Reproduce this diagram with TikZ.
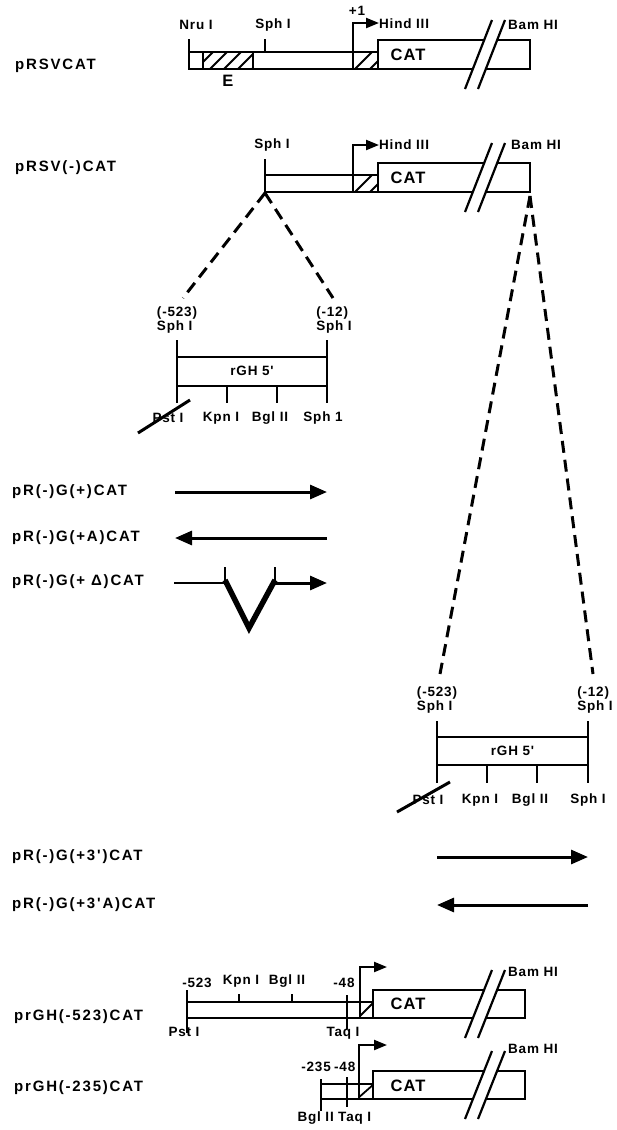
\documentclass[tikz,border=0pt]{standalone}
\usepackage{fontspec}
\setmainfont{Liberation Sans}
\newfontfamily\smf[LetterSpace=6]{Liberation Sans}
\newfontfamily\bgf[LetterSpace=12]{Liberation Sans}
\usetikzlibrary{arrows.meta,calc}
\tikzset{
 lbl/.style={font=\smf\bfseries\fontsize{13.5}{12}\selectfont, inner sep=0pt},
 cname/.style={font=\bgf\bfseries\fontsize{15}{14}\selectfont, inner sep=0pt, anchor=west},
 cat/.style={font=\smf\bfseries\fontsize{16.5}{16}\selectfont, inner sep=0pt},
 ln/.style={line width=2.2pt},
 hl/.style={line width=1.8pt},
 dsh/.style={line width=3pt, dash pattern=on 12pt off 7pt},
 arr/.style={line width=3pt, -{Triangle[length=17pt,width=14pt]}},
 prom/.style={line width=2.2pt, -{Triangle[length=13pt,width=10pt]}},
 strike/.style={line width=3pt},
 vee/.style={line width=5.5pt, line join=miter},
}
\newcommand\brkmark[2]{%
 \begin{scope}
 \clip (465,#2+20) -- (492,#1-20) -- (505,#1-20) -- (478,#2+20) -- cycle;
 \fill[white] (450,#1-3) rectangle (520,#2+3);
 \end{scope}
 \draw[ln] (465,#2+20) -- (492,#1-20);
 \draw[ln] (478,#2+20) -- (505,#1-20);}
\begin{document}
\begin{tikzpicture}[x=1pt,y=-1pt]
\useasboundingbox (0,0) rectangle (617,1130);
% ---------- pRSVCAT ----------
\node[cname] (n1) at (15,66) {pRSVCAT};
\begin{scope}
\clip (203,52) rectangle (253,69);
\foreach \x in {196,210,224,238,252} \draw[hl] (\x,69) -- (\x+17,52);
\end{scope}
\begin{scope}
\clip (353,52) rectangle (378,69);
\foreach \x in {355,370} \draw[hl] (\x,69) -- (\x+17,52);
\end{scope}
\draw[ln] (189,39) -- (189,69) -- (378,69);
\draw[ln] (189,52) -- (378,52);
\draw[ln] (203,52) -- (203,69);
\draw[ln] (253,52) -- (253,69);
\draw[ln] (265,52) -- (265,39);
\draw[ln] (378,40) rectangle (530,69);
\draw[prom] (353,69) -- (353,23) -- (379,23);
\brkmark{40}{69}
\node[lbl] (nru1) at (196,25) {Nru I};
\node[lbl] (sph1) at (273,25) {Sph I};
\node[cat] (e1) at (228,81) {E};
\node[lbl] (p1) at (357,11) {+1};
\node[lbl, anchor=west] (hind1) at (379,24) {Hind III};
\node[cat] (cat1) at (408,55) {CAT};
\node[lbl] (bam1) at (533,25) {Bam HI};
% ---------- pRSV(-)CAT ----------
\node[cname] (n2) at (15,168) {pRSV(-)CAT};
\begin{scope}
\clip (353,175) rectangle (378,192);
\foreach \x in {355,370} \draw[hl] (\x,192) -- (\x+17,175);
\end{scope}
\draw[ln] (265,159) -- (265,193);
\draw[ln] (265,175) -- (378,175);
\draw[ln] (265,192) -- (378,192);
\draw[ln] (378,163) rectangle (530,192);
\draw[prom] (353,192) -- (353,145) -- (379,145);
\brkmark{163}{192}
\node[lbl] (sph2) at (272,145) {Sph I};
\node[lbl, anchor=west] (hind2) at (379,145) {Hind III};
\node[cat] (cat2) at (408,178) {CAT};
\node[lbl] (bam2) at (536,145) {Bam HI};
\coordinate (apL) at (265,193);
\coordinate (apR) at (530,196);
\coordinate (d1a) at (183,298);
\coordinate (d1b) at (333,298);
\coordinate (d2a) at (440,674);
\coordinate (d2b) at (593,674);
\draw[dsh] (apL) -- (d1a);
\draw[dsh] (apL) -- (d1b);
\draw[dsh] (apR) -- (d2a);
\draw[dsh] (apR) -- (d2b);
% ---------- rGH box 1 ----------
\draw[ln] (177,340) -- (177,403);
\draw[ln] (327,340) -- (327,403);
\draw[ln] (177,357) -- (327,357);
\draw[ln] (177,386) -- (327,386);
\draw[ln] (227,386) -- (227,403);
\draw[ln] (277,386) -- (277,403);
\node[lbl] (rgh1) at (252,371) {rGH 5'};
\node[lbl, align=left] (t1a) at (177,320) {(-523)\\Sph I};
\node[lbl, align=left] (t1b) at (334,320) {(-12)\\Sph I};
\node[lbl] (pst1) at (168,418) {Pst I};
\node[lbl] (kpn1) at (221,418) {Kpn I};
\node[lbl] (bgl1) at (270,418) {Bgl II};
\node[lbl] (sphb1) at (323,418) {Sph 1};
\draw[strike] (138,433) -- (190,400);
% ---------- arrows group 1 ----------
\node[cname] (g1) at (12,492) {pR(-)G(+)CAT};
\node[cname] (g2) at (12,538) {pR(-)G(+A)CAT};
\node[cname] (g3) at (12,582) {pR(-)G(+ Δ)CAT};
\draw[arr] (175,492) -- (327,492);
\draw[arr] (327,538) -- (175,538);
\draw[line width=2.6pt] (174,583) -- (225,583);
\draw[ln] (225,567) -- (225,585);
\draw[ln] (275,567) -- (275,585);
\draw[vee] (225,580) -- (249,628) -- (275,580);
\draw[arr] (275,583) -- (327,583);
% ---------- rGH box 2 ----------
\draw[ln] (437,721) -- (437,783);
\draw[ln] (588,721) -- (588,783);
\draw[ln] (437,737) -- (588,737);
\draw[ln] (437,765) -- (588,765);
\draw[ln] (487,765) -- (487,783);
\draw[ln] (537,765) -- (537,783);
\node[lbl] (rgh2) at (512.5,751) {rGH 5'};
\node[lbl, align=left] (t2a) at (437,700) {(-523)\\Sph I};
\node[lbl, align=left] (t2b) at (595,700) {(-12)\\Sph I};
\node[lbl] (pst2) at (428,800) {Pst I};
\node[lbl] (kpn2) at (480,800) {Kpn I};
\node[lbl] (bgl2) at (530,800) {Bgl II};
\node[lbl] (sphb2) at (588,800) {Sph I};
\draw[strike] (397,812) -- (450,782);
% ---------- arrows group 2 ----------
\node[cname] (g4) at (12,857) {pR(-)G(+3')CAT};
\node[cname] (g5) at (12,905) {pR(-)G(+3'A)CAT};
\draw[arr] (437,857) -- (588,857);
\draw[arr] (588,905) -- (437,905);
% ---------- prGH(-523)CAT ----------
\node[cname] (n3) at (14,1017) {prGH(-523)CAT};
\begin{scope}
\clip (360,1002) rectangle (373,1018);
\draw[hl] (358,1018) -- (374,1002);
\end{scope}
\draw[ln] (187,990) -- (187,1033);
\draw[ln] (187,1002) -- (373,1002);
\draw[ln] (187,1018) -- (373,1018);
\draw[ln] (239,994) -- (239,1002);
\draw[ln] (292,994) -- (292,1002);
\draw[ln] (347,995) -- (347,1029);
\draw[ln] (373,990) rectangle (525,1018);
\draw[prom] (360,1018) -- (360,967) -- (387,967);
\brkmark{990}{1018}
\node[lbl] (m523) at (197,983) {-523};
\node[lbl] (kpn3) at (241,981) {Kpn I};
\node[lbl] (bgl3) at (287,981) {Bgl II};
\node[lbl] (m48a) at (344,983) {-48};
\node[lbl] (pst3) at (184,1032) {Pst I};
\node[lbl] (taq3) at (343,1033) {Taq I};
\node[cat] (cat3) at (408,1004) {CAT};
\node[lbl] (bam3) at (533,972) {Bam HI};
% ---------- prGH(-235)CAT ----------
\node[cname] (n4) at (14,1088) {prGH(-235)CAT};
\begin{scope}
\clip (359,1084) rectangle (373,1099);
\draw[hl] (357,1099) -- (374,1084);
\end{scope}
\draw[ln] (321,1079) -- (321,1111);
\draw[ln] (321,1084) -- (373,1084);
\draw[ln] (321,1099) -- (373,1099);
\draw[ln] (347,1077) -- (347,1107);
\draw[ln] (373,1071) rectangle (525,1099);
\draw[prom] (359,1099) -- (359,1045) -- (387,1045);
\brkmark{1071}{1099}
\node[lbl, anchor=east] (m235) at (331,1067) {-235};
\node[lbl, anchor=west] (m48b) at (334,1067) {-48};
\node[lbl, anchor=east] (bgl4) at (334,1118) {Bgl II};
\node[lbl, anchor=west] (taq4) at (338,1118) {Taq I};
\node[cat] (cat4) at (408,1086) {CAT};
\node[lbl] (bam4) at (533,1049) {Bam HI};
\end{tikzpicture}
\end{document}
